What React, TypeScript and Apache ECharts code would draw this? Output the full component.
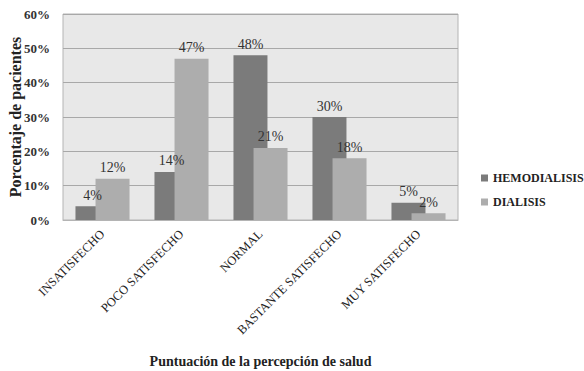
import React, { useEffect, useRef } from "react";
import * as echarts from "echarts";

const categories = [
  "INSATISFECHO",
  "POCO SATISFECHO",
  "NORMAL",
  "BASTANTE SATISFECHO",
  "MUY SATISFECHO",
];
const hemodialisis = [4, 14, 48, 30, 5];
const dialisis = [12, 47, 21, 18, 2];
const yTicks = [0, 10, 20, 30, 40, 50, 60];
const yTitle = "Porcentaje de pacientes";
const xTitle = "Puntuación de la percepción de salud";

const FONT = "Liberation Serif";

export default function App() {
  const ref = useRef<HTMLDivElement>(null);

  useEffect(() => {
    if (!ref.current) return;
    const chart = echarts.init(ref.current, null, { renderer: "svg" });
    chart.setOption({
      animation: false,
      backgroundColor: "#ffffff",
      textStyle: { fontFamily: FONT },
      grid: {
        left: 63,
        right: 126,
        top: 14,
        bottom: 151,
        outerBoundsMode: "none",
        containLabel: false,
        show: true,
        backgroundColor: "#e8e8e8",
        borderColor: "#b4b4b4",
        borderWidth: 1,
      },
      graphic: [
        {
          type: "text",
          x: 15,
          y: 117,
          rotation: Math.PI / 2,
          style: {
            text: yTitle,
            fontFamily: FONT,
            fontWeight: "bold",
            fontSize: 16,
            fill: "#222",
            textAlign: "center",
            textVerticalAlign: "middle",
          },
        },
      ],
      legend: {
        orient: "vertical",
        left: 481,
        top: 172,
        itemWidth: 7,
        itemHeight: 7,
        itemGap: 12,
        icon: "rect",
        padding: 0,
        textStyle: {
          fontFamily: FONT,
          fontWeight: "bold",
          fontSize: 12,
          color: "#222",
        },
        data: ["HEMODIALISIS", "DIALISIS"],
      },
      xAxis: {
        type: "category",
        data: categories,
        name: xTitle,
        nameLocation: "middle",
        nameGap: 134,
        nameTextStyle: {
          fontFamily: FONT,
          fontWeight: "bold",
          fontSize: 14,
          color: "#222",
        },
        axisLine: { lineStyle: { color: "#b4b4b4" } },
        axisTick: { show: false },
        axisLabel: {
          rotate: 45,
          interval: 0,
          fontFamily: FONT,
          fontSize: 12.5,
          color: "#222",
          margin: 12,
        },
      },
      yAxis: {
        type: "value",
        min: 0,
        max: 60,
        interval: 10,
        axisLine: { show: false },
        axisTick: { show: false },
        splitLine: { lineStyle: { color: "#a8a8a8", width: 1 } },
        axisLabel: {
          fontFamily: FONT,
          fontWeight: "bold",
          fontSize: 13,
          color: "#333",
          margin: 13,
          formatter: (v: number) => (yTicks.includes(v) ? `${v}%` : ""),
        },
      },
      series: [
        {
          name: "HEMODIALISIS",
          type: "bar",
          data: hemodialisis,
          barWidth: 34,
          barGap: "-41%",
          itemStyle: { color: "#7b7b7b" },
          label: {
            show: true,
            position: "top",
            distance: 4,
            formatter: "{c}%",
            fontFamily: FONT,
            fontSize: 14,
            color: "#333",
          },
        },
        {
          name: "DIALISIS",
          type: "bar",
          data: dialisis,
          barWidth: 34,
          itemStyle: { color: "#adadad" },
          label: {
            show: true,
            position: "top",
            distance: 4,
            formatter: "{c}%",
            fontFamily: FONT,
            fontSize: 14,
            color: "#333",
          },
        },
      ],
    });
    return () => chart.dispose();
  }, []);

  return (
    <div
      ref={ref}
      style={{ position: "absolute", left: 0, top: 0, width: 584, height: 371 }}
    />
  );
}
